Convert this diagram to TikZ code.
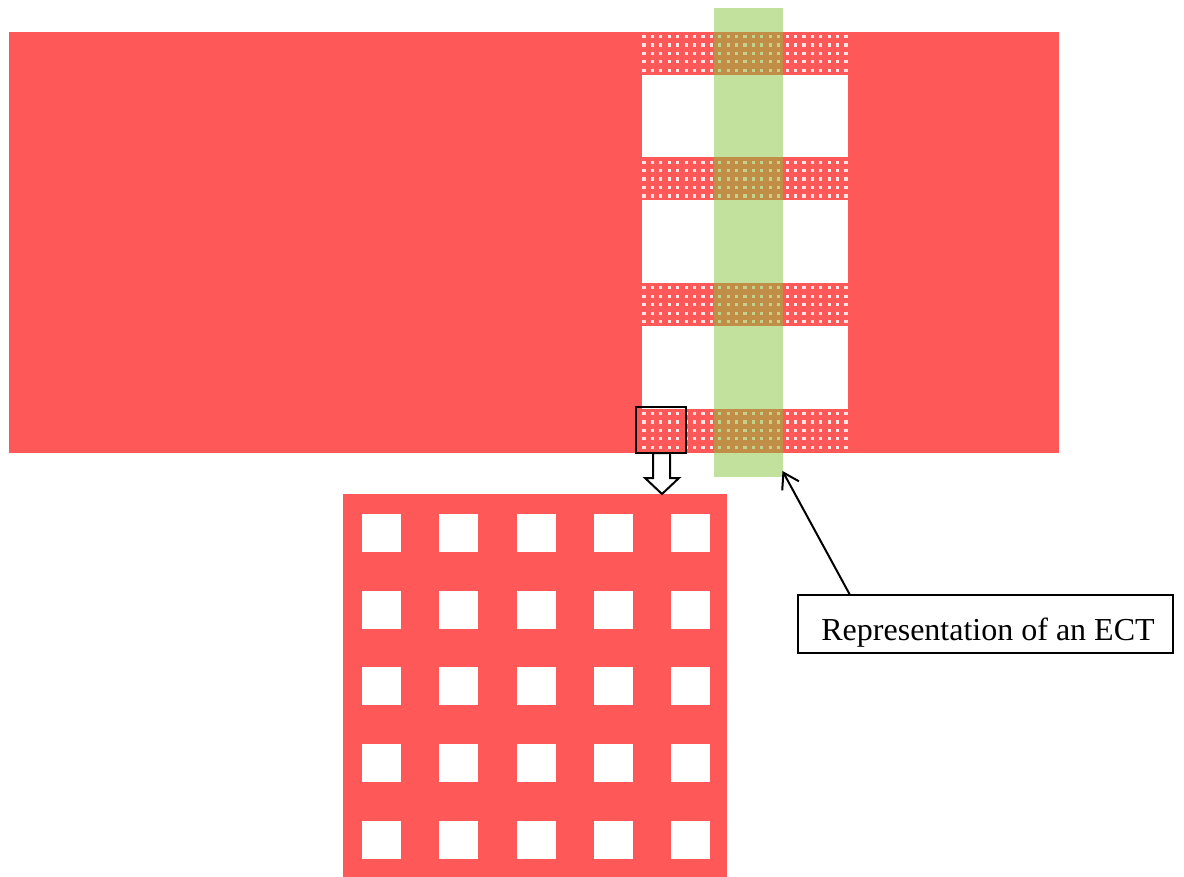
\documentclass[tikz,border=0pt]{standalone}
\usepackage{fontspec}
\setmainfont{Liberation Serif}
\usetikzlibrary{arrows.meta}
\definecolor{redc}{RGB}{255,88,88}
\definecolor{greenc}{RGB}{132,196,58}
\definecolor{dotc}{RGB}{255,226,226}
\tikzset{
  redfill/.style={fill=redc, draw=none},
  holefill/.style={fill=white, draw=none},
  ectband/.style={fill=greenc, fill opacity=0.5, draw=none},
  blackline/.style={draw=black, line width=1.6pt},
  labelbox/.style={draw=black, line width=1.5pt, minimum width=375pt, minimum height=58pt, inner sep=0pt},
  pointer/.style={draw=black, line width=2pt, -{Straight Barb[length=15pt,width=19pt]}}
}
\begin{document}
\begin{tikzpicture}[x=1pt,y=-1pt]
\useasboundingbox (0,0) rectangle (1184,877);
% main red plate
\fill[redfill] (9,32) rectangle (1059,453);
% white openings
\foreach \t/\b in {75/157.5, 200.5/283, 326/409}
  \fill[holefill] (642,\t) rectangle (848,\b);
% perforated strips
\foreach \s in {0,...,3}
  \foreach \i in {0,...,24}
    \foreach \j in {0,...,4}
      \fill[dotc] ({644+8.42*\i-1.6},{36.5+125.67*\s+8.45*\j-1.6}) rectangle ++(3.2,3.2);
% ECT band
\fill[ectband] (714,8) rectangle (783,477);
% detail box
\draw[blackline] (636,407) rectangle (686,453);
% lower enlarged square
\fill[redfill] (343,494) rectangle (727,877);
\foreach \cx in {362,439,517,594,671}
  \foreach \cy in {514,591,667,744,821}
    \fill[holefill] (\cx,\cy) rectangle ++(39,38);
% hollow arrow
\filldraw[blackline, line width=2pt, fill=white, line join=miter] (653,453) -- (670,453) -- (670,478) -- (679,478) -- (662,494) -- (645,478) -- (653,478) -- cycle;
% label
\node[labelbox] (ect) at (985.5,624) {};
\node[anchor=base, inner sep=0pt, font=\fontsize{32}{38}\selectfont] (ecttext) at (988,640) {Representation of an ECT};
\coordinate (ectstart) at (850,595);
\coordinate (ecttip) at (782.5,471);
\draw[pointer] (ectstart) -- (ecttip);
\end{tikzpicture}
\end{document}
